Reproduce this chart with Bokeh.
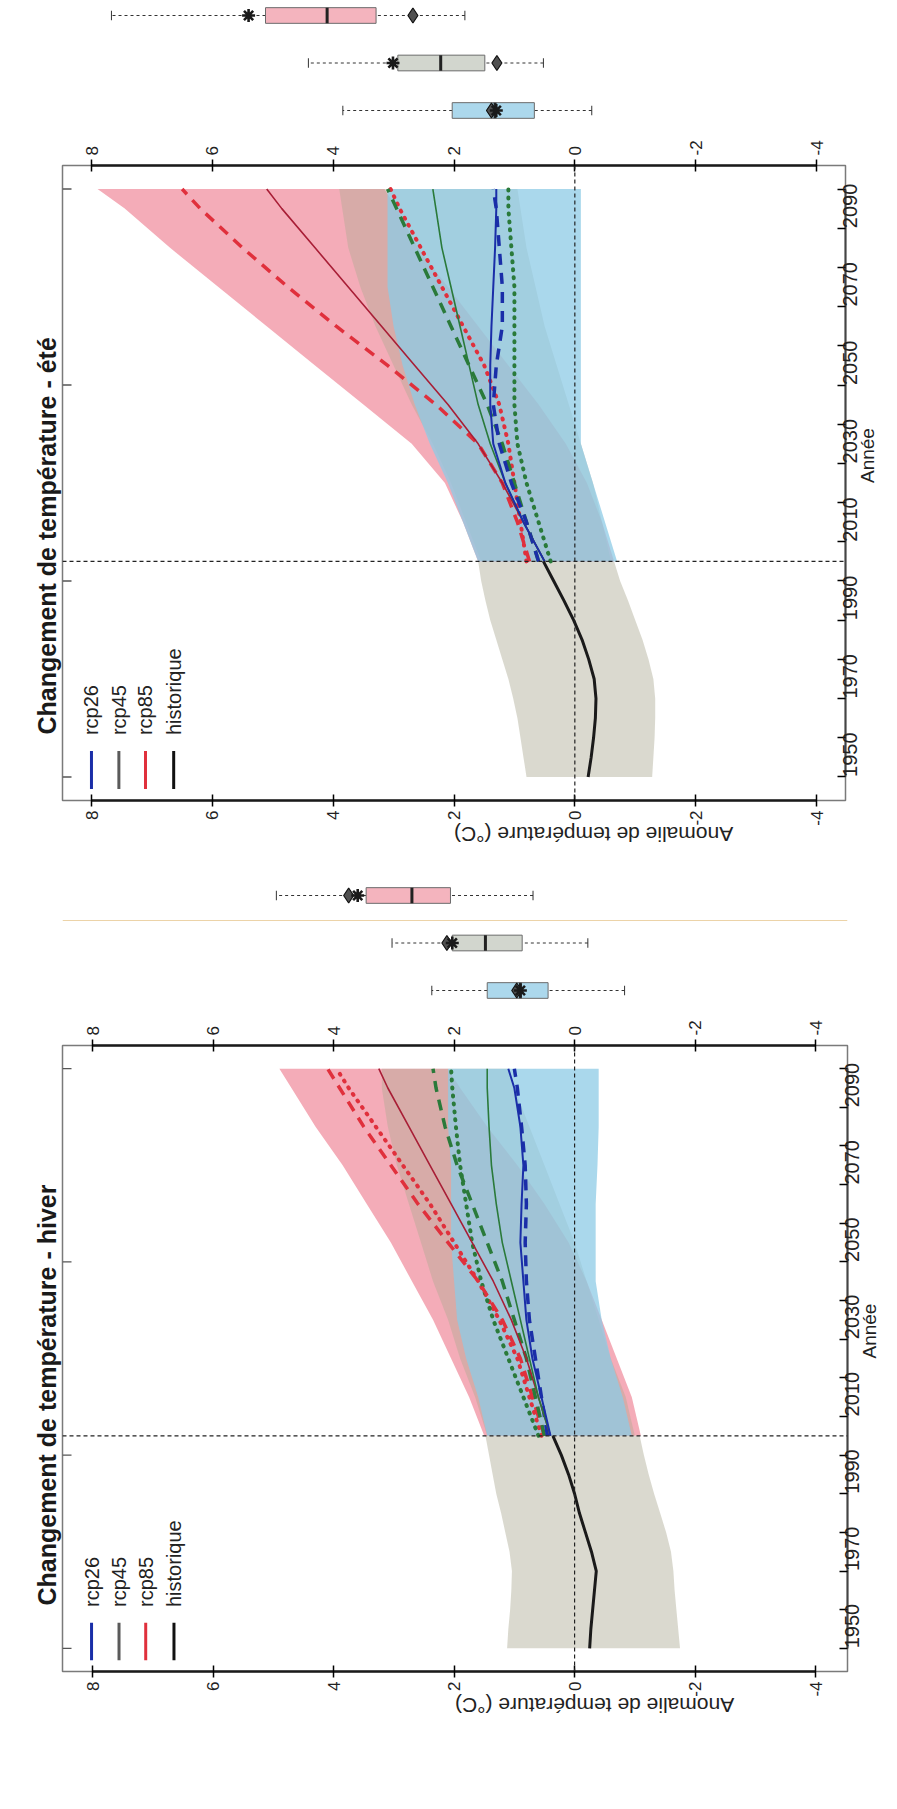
import math
from bokeh.plotting import figure
from bokeh.models import Range1d, LinearAxis, FixedTicker, Span, Title
from bokeh.layouts import column
from bokeh.embed import file_html
from bokeh.resources import INLINE
from bokeh.core.properties import value

# ---------------- data ----------------
scenarios = ["rcp26", "rcp45", "rcp85", "historique"]
temp_ticks = [-4, -2, 0, 2, 4, 6, 8]
year_ticks = [1950, 1970, 1990, 2010, 2030, 2050, 2070, 2090]
year_minor_ticks = [1960, 1980, 2000, 2020, 2040, 2060, 2080, 2100]
edge_ticks = [1950, 2000, 2050, 2100]
split_year = 2005

years_hist = [1950, 1955, 1960, 1965, 1970, 1975, 1980, 1985, 1990, 1995, 2000, 2005]
years_proj = [2005, 2015, 2025, 2035, 2045, 2055, 2065, 2075, 2085, 2095, 2100]

# été
ete_hist_mean = [-0.22, -0.27, -0.31, -0.34, -0.35, -0.32, -0.23, -0.12, 0.02, 0.18, 0.35, 0.52]
ete_hist_low = [-1.28, -1.30, -1.32, -1.33, -1.33, -1.30, -1.22, -1.12, -1.00, -0.88, -0.75, -0.65]
ete_hist_high = [0.80, 0.85, 0.90, 0.95, 1.02, 1.10, 1.20, 1.30, 1.40, 1.48, 1.55, 1.60]
ete_rcp85_low = [-0.65, -0.45, -0.20, 0.15, 0.60, 1.10, 1.60, 2.10, 2.60, 2.95, 3.15]
ete_rcp85_high = [1.60, 1.85, 2.15, 2.70, 3.50, 4.30, 5.10, 5.90, 6.70, 7.45, 7.90]
ete_rcp45_low = [-0.60, -0.45, -0.30, -0.10, 0.10, 0.30, 0.50, 0.65, 0.80, 0.90, 0.95]
ete_rcp45_high = [1.55, 1.80, 2.05, 2.35, 2.70, 3.00, 3.30, 3.55, 3.75, 3.85, 3.90]
ete_rcp26_low = [-0.70, -0.50, -0.30, -0.10, -0.10, -0.10, -0.10, -0.10, -0.10, -0.10, -0.10]
ete_rcp26_high = [1.60, 1.85, 2.10, 2.40, 2.65, 2.85, 3.00, 3.10, 3.10, 3.10, 3.10]
ete_rcp85_solid = [0.50, 0.85, 1.20, 1.60, 2.10, 2.65, 3.20, 3.75, 4.30, 4.85, 5.10]
ete_rcp85_dash = [0.75, 0.95, 1.20, 1.60, 2.30, 3.10, 3.95, 4.75, 5.50, 6.20, 6.50]
ete_rcp85_dot = [0.80, 0.90, 1.00, 1.10, 1.25, 1.50, 1.85, 2.20, 2.55, 2.90, 3.05]
ete_rcp45_solid = [0.50, 0.85, 1.15, 1.40, 1.60, 1.75, 1.90, 2.05, 2.20, 2.30, 2.35]
ete_rcp45_dash = [0.60, 0.80, 1.00, 1.20, 1.45, 1.75, 2.05, 2.35, 2.65, 2.95, 3.10]
ete_rcp45_dot = [0.40, 0.60, 0.80, 0.95, 1.00, 1.00, 1.00, 1.00, 1.05, 1.10, 1.10]
ete_rcp26_solid = [0.50, 0.85, 1.15, 1.35, 1.40, 1.40, 1.38, 1.35, 1.32, 1.30, 1.30]
ete_rcp26_dash = [0.60, 0.80, 1.05, 1.25, 1.35, 1.30, 1.20, 1.20, 1.25, 1.30, 1.35]

# hiver
hiver_hist_mean = [-0.25, -0.27, -0.30, -0.33, -0.36, -0.28, -0.18, -0.08, 0.00, 0.10, 0.22, 0.36]
hiver_hist_low = [-1.75, -1.72, -1.69, -1.66, -1.64, -1.60, -1.52, -1.42, -1.32, -1.23, -1.15, -1.08]
hiver_hist_high = [1.12, 1.10, 1.07, 1.05, 1.04, 1.08, 1.15, 1.22, 1.30, 1.36, 1.42, 1.48]
hiver_rcp85_low = [-1.10, -0.95, -0.70, -0.45, -0.20, 0.10, 0.50, 0.95, 1.45, 1.90, 2.10]
hiver_rcp85_high = [1.50, 1.75, 2.05, 2.35, 2.70, 3.05, 3.45, 3.85, 4.30, 4.70, 4.90]
hiver_rcp45_low = [-1.00, -0.85, -0.60, -0.40, -0.20, 0.00, 0.25, 0.50, 0.75, 1.00, 1.10]
hiver_rcp45_high = [1.45, 1.65, 1.90, 2.10, 2.35, 2.55, 2.75, 2.95, 3.10, 3.20, 3.20]
hiver_rcp26_low = [-0.95, -0.80, -0.60, -0.45, -0.35, -0.35, -0.35, -0.38, -0.40, -0.40, -0.40]
hiver_rcp26_high = [1.45, 1.60, 1.80, 1.95, 2.00, 2.05, 2.05, 2.05, 2.10, 2.10, 2.10]
hiver_rcp85_solid = [0.40, 0.60, 0.80, 1.05, 1.35, 1.70, 2.05, 2.40, 2.75, 3.10, 3.25]
hiver_rcp85_dash = [0.50, 0.70, 0.90, 1.20, 1.60, 2.10, 2.60, 3.05, 3.50, 3.90, 4.10]
hiver_rcp85_dot = [0.55, 0.75, 0.95, 1.25, 1.60, 2.00, 2.40, 2.85, 3.30, 3.75, 3.95]
hiver_rcp45_solid = [0.40, 0.60, 0.75, 0.90, 1.05, 1.20, 1.30, 1.38, 1.42, 1.45, 1.45]
hiver_rcp45_dash = [0.50, 0.65, 0.80, 1.00, 1.20, 1.45, 1.70, 1.95, 2.15, 2.30, 2.35]
hiver_rcp45_dot = [0.60, 0.85, 1.10, 1.35, 1.55, 1.70, 1.80, 1.90, 1.97, 2.03, 2.05]
hiver_rcp26_solid = [0.40, 0.55, 0.70, 0.80, 0.85, 0.90, 0.88, 0.85, 0.90, 1.00, 1.10]
hiver_rcp26_dash = [0.45, 0.55, 0.65, 0.75, 0.80, 0.82, 0.80, 0.82, 0.88, 0.95, 1.00]

# box plots (order: rcp26, rcp45, rcp85)
box_rows = ["rcp26", "rcp45", "rcp85"]
ete_box_low = [-0.28, 0.52, 1.82]
ete_box_q1 = [0.67, 1.49, 3.29]
ete_box_med = [1.32, 2.22, 4.10]
ete_box_q3 = [2.03, 2.93, 5.12]
ete_box_high = [3.84, 4.41, 7.67]
ete_box_star = [1.30, 3.01, 5.40]
ete_box_diam = [1.38, 1.29, 2.68]

hiver_box_low = [-0.83, -0.22, 0.69]
hiver_box_q1 = [0.44, 0.87, 2.06]
hiver_box_med = [0.90, 1.48, 2.70]
hiver_box_q3 = [1.45, 2.03, 3.46]
hiver_box_high = [2.37, 3.03, 4.95]
hiver_box_star = [0.90, 2.03, 3.60]
hiver_box_diam = [0.96, 2.12, 3.75]

# ---------------- styling ----------------
FONT = "Liberation Sans"
NARROW = "Liberation Sans Narrow, Liberation Sans"
band_colors = {"historique": ("#d6d5ca", 0.9), "rcp85": ("#f29dac", 0.85),
               "rcp45": ("#b3ab95", 0.45), "rcp26": ("#8ecbe5", 0.75)}
box_fill = ["#acd8ec", "#d2d6ce", "#f4b4be"]
legend_colors = ["#1a2ea8", "#5a5a5a", "#e0303c", "#111111"]
RED, RED_DARK, GREEN, BLUE, BLACK = "#e0303c", "#a81e36", "#2a7a3a", "#1a2ea8", "#1a1a1a"


def temp_axis(side_label=None):
    ax = LinearAxis(ticker=FixedTicker(ticks=temp_ticks), bounds=(-4, 8))
    ax.major_label_overrides = {t: str(t) for t in temp_ticks}
    ax.major_label_orientation = math.pi / 2
    ax.major_tick_in = 6
    ax.major_tick_out = 6
    ax.major_tick_line_width = 1.5
    ax.minor_tick_line_color = None
    ax.axis_line_width = 2.5
    ax.axis_line_color = "#1a1a1a"
    ax.major_label_text_font = FONT
    ax.major_label_text_font_size = "17px"
    ax.major_label_text_color = "#222222"
    ax.major_label_standoff = 4
    if side_label:
        ax.axis_label = side_label
        ax.axis_label_text_font = FONT
        ax.axis_label_text_font_size = "21px"
        ax.axis_label_text_font_style = "normal"
        ax.axis_label_text_color = "#222222"
        ax.axis_label_standoff = 6
    return ax


def build_panel(title_txt, fw, fh, left, right, bottom, x0, x1, d, box):
    xr = Range1d(x0, x1)
    yr = Range1d(1944, 2106)

    # ---- box plot strip ----
    span = 2 / (95 / 130)
    b_end = (110 / 130) * span
    b_start = b_end - span
    pb = figure(frame_width=fw, frame_height=130, x_range=xr,
                y_range=Range1d(b_start, b_end), title=None,
                min_border_left=left, min_border_right=right,
                min_border_top=0, min_border_bottom=0,
                x_axis_location=None, y_axis_location=None,
                outline_line_color=None, toolbar_location=None,
                output_backend="svg")
    pb.grid.visible = False
    rows = list(range(len(box_rows)))
    lo, q1, med, q3, hi, star, diam = box
    pb.segment(x0=lo, y0=rows, x1=q1, y1=rows, line_color="#333333",
               line_dash="3 3", line_width=1)
    pb.segment(x0=q3, y0=rows, x1=hi, y1=rows, line_color="#333333",
               line_dash="3 3", line_width=1)
    pb.segment(x0=lo, y0=[r - 0.1 for r in rows], x1=lo, y1=[r + 0.1 for r in rows],
               line_color="#333333", line_width=1)
    pb.segment(x0=hi, y0=[r - 0.1 for r in rows], x1=hi, y1=[r + 0.1 for r in rows],
               line_color="#333333", line_width=1)
    pb.hbar(y=rows, left=q1, right=q3, height=0.33, fill_color=box_fill,
            line_color="#6b6b6b", line_width=1)
    pb.segment(x0=med, y0=[r - 0.165 for r in rows], x1=med, y1=[r + 0.165 for r in rows],
               line_color="#222222", line_width=3)
    pb.scatter(x=diam, y=rows, marker="diamond", size=15, fill_color="#505050",
               line_color="#111111", line_width=1.2)
    pb.scatter(x=star, y=rows, marker="asterisk", size=13, line_color="#1a1a1a",
               line_width=2.6)

    # ---- main plot ----
    p = figure(frame_width=fw, frame_height=fh, x_range=xr, y_range=yr, title=None,
               min_border_left=left, min_border_right=right,
               min_border_top=35, min_border_bottom=bottom,
               x_axis_location=None, y_axis_location=None,
               outline_line_color="#7a7a7a", outline_line_width=1.5,
               toolbar_location=None, output_backend="svg")
    p.grid.visible = False

    # bands
    c, a = band_colors["historique"]
    p.harea(x1=d["hist_low"], x2=d["hist_high"], y=years_hist, fill_color=c, fill_alpha=a)
    for key in ["rcp85", "rcp45", "rcp26"]:
        c, a = band_colors[key]
        p.harea(x1=d[key + "_low"], x2=d[key + "_high"], y=years_proj,
                fill_color=c, fill_alpha=a)

    def ln(vals, color, dash, width):
        cap = "round" if dash.startswith("1 ") else "butt"
        p.line(x=vals, y=years_proj, line_color=color, line_dash=dash,
               line_width=width, line_cap=cap)

    ln(d["rcp85_dot"], RED, "1 7", 4)
    ln(d["rcp45_dot"], GREEN, "1 7", 4)
    ln(d["rcp85_dash"], RED, "11 8", 3.5)
    ln(d["rcp45_dash"], GREEN, "11 8", 3.5)
    ln(d["rcp26_dash"], BLUE, "11 8", 3.5)
    ln(d["rcp85_solid"], RED_DARK, "solid", 1.6)
    ln(d["rcp45_solid"], GREEN, "solid", 1.6)
    ln(d["rcp26_solid"], BLUE, "solid", 2.0)
    p.line(x=d["hist_mean"], y=years_hist, line_color=BLACK, line_width=3)

    p.add_layout(Span(location=0, dimension="height", line_color="#222222",
                      line_dash="4 3", line_width=1.2))
    p.add_layout(Span(location=split_year, dimension="width", line_color="#222222",
                      line_dash="4 3", line_width=1.2))

    tspan = x0 - x1
    yspan = yr.end - yr.start

    # inward ticks on the left frame edge
    tick_len = 9 * tspan / fw
    p.segment(x0=[x0] * len(edge_ticks), y0=edge_ticks,
              x1=[x0 - tick_len] * len(edge_ticks), y1=edge_ticks,
              line_color="#555555", line_width=1.3)

    # legend (rotated)
    lx = [x0 - f * tspan for f in (0.037, 0.072, 0.106, 0.142)]
    y_a = yr.end - 0.982 * yspan
    y_b = yr.end - 0.922 * yspan
    y_t = yr.end - 0.897 * yspan
    p.segment(x0=lx, y0=[y_a] * 4, x1=lx, y1=[y_b] * 4,
              line_color=legend_colors, line_width=3)
    p.text(x=lx, y=[y_t] * 4, text=scenarios, angle=math.pi / 2,
           text_align="left", text_baseline="middle",
           text_font=value(FONT), text_font_size="20px", text_color="#222222")

    # axes
    ax_top = temp_axis()
    p.add_layout(ax_top, "above")
    ax_bot = temp_axis("Anomalie de température (°C)")
    p.add_layout(ax_bot, "below")
    try:
        ax_bot.axis_label_orientation = math.pi
    except Exception:
        pass

    ax_r = LinearAxis(ticker=FixedTicker(ticks=year_ticks, minor_ticks=year_minor_ticks),
                      bounds=(1950, 2100))
    ax_r.major_label_orientation = math.pi / 2
    ax_r.major_tick_in = 8
    ax_r.major_tick_out = 0
    ax_r.minor_tick_in = 8
    ax_r.minor_tick_out = 0
    ax_r.major_tick_line_width = 1.3
    ax_r.minor_tick_line_width = 1.3
    ax_r.axis_line_color = "#444444"
    ax_r.axis_line_width = 2
    ax_r.major_label_text_font = NARROW
    ax_r.major_label_text_font_size = "20px"
    ax_r.major_label_text_color = "#222222"
    ax_r.major_label_standoff = 5
    ax_r.axis_label = "Année"
    ax_r.axis_label_text_font = NARROW
    ax_r.axis_label_text_font_size = "19px"
    ax_r.axis_label_text_font_style = "normal"
    ax_r.axis_label_text_color = "#222222"
    ax_r.axis_label_standoff = 0
    try:
        ax_r.axis_label_orientation = math.pi / 2
    except Exception:
        pass
    p.add_layout(ax_r, "right")

    p.add_layout(Title(text=title_txt, align="left", offset=66, text_font=FONT,
                       text_font_size="25px", text_font_style="bold",
                       text_color="#1a1a1a", standoff=3), "left")
    return pb, p


ete_data = {
    "hist_mean": ete_hist_mean, "hist_low": ete_hist_low, "hist_high": ete_hist_high,
    "rcp85_low": ete_rcp85_low, "rcp85_high": ete_rcp85_high,
    "rcp45_low": ete_rcp45_low, "rcp45_high": ete_rcp45_high,
    "rcp26_low": ete_rcp26_low, "rcp26_high": ete_rcp26_high,
    "rcp85_solid": ete_rcp85_solid, "rcp85_dash": ete_rcp85_dash, "rcp85_dot": ete_rcp85_dot,
    "rcp45_solid": ete_rcp45_solid, "rcp45_dash": ete_rcp45_dash, "rcp45_dot": ete_rcp45_dot,
    "rcp26_solid": ete_rcp26_solid, "rcp26_dash": ete_rcp26_dash,
}
hiver_data = {
    "hist_mean": hiver_hist_mean, "hist_low": hiver_hist_low, "hist_high": hiver_hist_high,
    "rcp85_low": hiver_rcp85_low, "rcp85_high": hiver_rcp85_high,
    "rcp45_low": hiver_rcp45_low, "rcp45_high": hiver_rcp45_high,
    "rcp26_low": hiver_rcp26_low, "rcp26_high": hiver_rcp26_high,
    "rcp85_solid": hiver_rcp85_solid, "rcp85_dash": hiver_rcp85_dash, "rcp85_dot": hiver_rcp85_dot,
    "rcp45_solid": hiver_rcp45_solid, "rcp45_dash": hiver_rcp45_dash, "rcp45_dot": hiver_rcp45_dot,
    "rcp26_solid": hiver_rcp26_solid, "rcp26_dash": hiver_rcp26_dash,
}
ete_box = (ete_box_low, ete_box_q1, ete_box_med, ete_box_q3, ete_box_high, ete_box_star, ete_box_diam)
hiver_box = (hiver_box_low, hiver_box_q1, hiver_box_med, hiver_box_q3, hiver_box_high,
             hiver_box_star, hiver_box_diam)

pb1, p1 = build_panel("Changement de température - été", 783, 635, 52, 62, 80,
                      8.48, -4.48, ete_data, ete_box)
pb2, p2 = build_panel("Changement de température - hiver", 785, 626, 62, 50, 138,
                      8.5, -4.53, hiver_data, hiver_box)

# faint scan separator between the two panels
_span = 2 / (95 / 130)
sep_y = (110 / 130) * _span - 40 / 130 * _span
pb2.add_layout(Span(location=sep_y, dimension="width", line_color="#ecd3a8", line_width=1))

layout = column(pb1, p1, pb2, p2, spacing=0)
open("out.html", "w").write(file_html(layout, INLINE))
